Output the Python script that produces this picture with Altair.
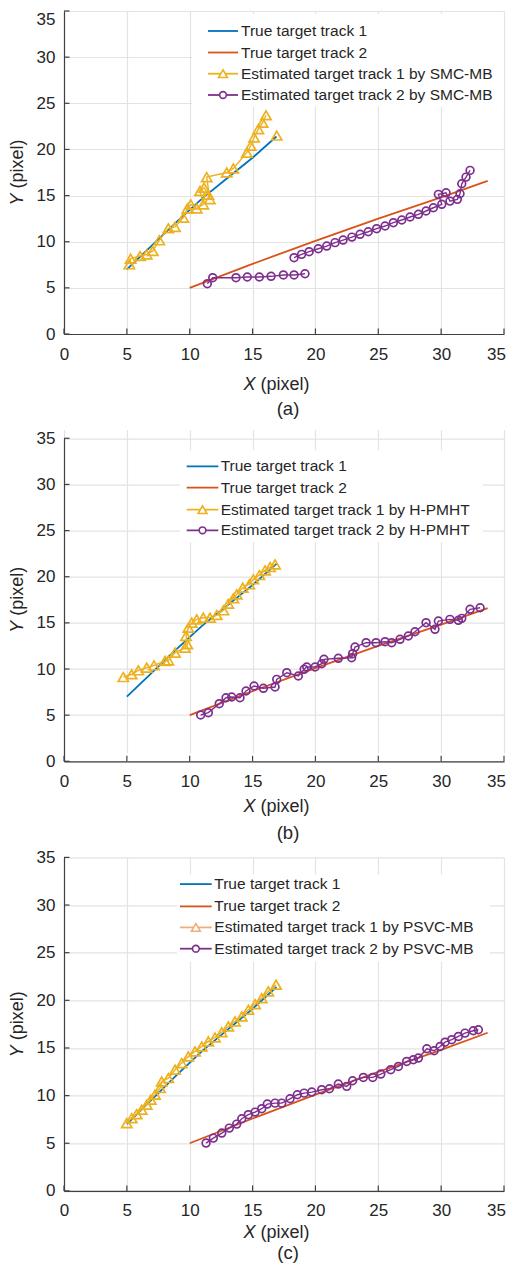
import altair as alt
import pandas as pd

FONT = "Liberation Sans"
TXT = "#262626"
C_TRUE1 = "#0072BD"
C_TRUE2 = "#D95319"
C_EST1 = "#EDB120"
C_EST1_C_LEG = "#F2AC80"
C_EST2 = "#7E2F8E"

TICKS = [0, 5, 10, 15, 20, 25, 30, 35]

# true tracks (same in all panels)
true1_x = [5.0, 7.0, 9.0, 11.0, 13.0, 15.0, 16.9]
true1_y = [7.0, 9.6, 12.2, 14.7, 16.9, 19.1, 21.4]
true2_x = [10.0, 15.0, 20.0, 25.0, 30.0, 33.7]
true2_y = [5.0, 7.6, 10.1, 12.5, 14.8, 16.6]

# panel (a) SMC-MB
a1_x = [5.2, 5.3, 6.05, 6.58, 7.06, 7.58, 8.3, 8.83, 9.49, 9.81, 10.08, 10.56, 11.08, 10.82, 11.14, 11.48,
        11.6, 11.35, 12.94, 13.47, 14.54, 14.85, 15.12, 15.46, 15.8, 16.07]
a1_y = [7.55, 8.16, 8.45, 8.63, 9.0, 10.15, 11.45, 11.6, 12.6, 13.6, 14.05, 13.6, 14.05, 15.5, 15.85, 15.1,
        14.6, 17.0, 17.5, 17.95, 19.65, 20.4, 21.3, 22.2, 22.9, 23.7]
a1_last_x = [16.92]
a1_last_y = [21.5]
a2_low_x = [11.4, 11.83, 13.68, 14.58, 15.54, 16.47, 17.45, 18.3, 19.17]
a2_low_y = [5.45, 6.1, 6.1, 6.18, 6.18, 6.25, 6.4, 6.4, 6.53]
a2_up_x = [18.3, 18.9, 19.5, 20.23, 20.9, 21.56, 22.2, 22.9, 23.55, 24.2, 24.87, 25.54, 26.2, 26.87, 27.53,
           28.19, 28.8, 29.38, 30.05, 29.78, 30.39, 30.7, 31.29, 31.5, 31.64, 31.98, 32.3]
a2_up_y = [8.27, 8.63, 8.92, 9.24, 9.53, 9.9, 10.18, 10.5, 10.8, 11.08, 11.41, 11.7, 12.06, 12.35, 12.68,
           12.97, 13.33, 13.68, 14.05, 15.13, 15.3, 14.4, 14.59, 15.2, 16.28, 17.0, 17.73]

# panel (b) H-PMHT
b1_x = [4.72, 5.38, 5.91, 6.58, 7.16, 8.04, 8.3, 8.83, 9.63, 9.81, 9.71, 9.89, 10.16, 10.56, 11.08, 11.61,
        12.15, 12.68, 13.07, 13.47, 13.74, 14.22, 14.74, 15.06, 15.54, 15.99, 16.39, 16.79]
b1_y = [9.13, 9.43, 9.86, 10.14, 10.4, 10.87, 10.94, 11.77, 12.31, 12.68, 13.58, 14.47, 15.02, 15.38, 15.56,
        15.56, 15.85, 16.36, 17.07, 17.66, 18.09, 18.81, 19.18, 19.72, 20.18, 20.69, 21.05, 21.34]
b2_x = [10.87, 11.48, 12.35, 12.89, 13.34, 14.0, 14.48, 15.12, 15.86, 16.79, 16.92, 17.72, 18.64, 19.1, 19.31,
        19.97, 20.5, 20.68, 21.82, 22.88, 22.96, 23.15, 24.03, 24.82, 25.54, 26.07, 26.73, 27.39, 27.92, 28.8,
        29.51, 29.78, 30.7, 31.37, 31.64, 32.3, 33.1]
b2_y = [5.02, 5.27, 6.24, 6.89, 6.97, 6.89, 7.62, 8.16, 7.91, 8.05, 8.88, 9.6, 9.24, 9.97, 10.22,
        10.22, 10.57, 11.05, 11.16, 11.22, 11.66, 12.38, 12.85, 12.85, 12.96, 12.85, 13.22, 13.58, 14.04, 15.02,
        14.3, 15.2, 15.38, 15.28, 15.49, 16.47, 16.64]

# panel (c) PSVC-MB
c1_x = [4.99, 5.39, 5.78, 6.18, 6.58, 6.9, 7.24, 7.64, 7.77, 8.3, 8.83, 9.36, 9.89, 10.42, 10.96, 11.48,
        12.01, 12.55, 13.07, 13.6, 14.14, 14.66, 15.2, 15.73, 16.25, 16.87]
c1_y = [7.11, 7.64, 8.06, 8.52, 9.04, 9.57, 10.1, 10.79, 11.49, 11.84, 12.72, 13.41, 14.11, 14.64, 15.16, 15.69,
        16.1, 16.66, 17.26, 17.79, 18.31, 19.01, 19.6, 20.23, 20.93, 21.64]
c2_x = [11.3, 11.88, 12.55, 13.15, 13.74, 14.14, 14.66, 15.2, 15.73, 16.17, 16.79, 17.32, 17.98, 18.56, 19.1,
        19.71, 20.5, 21.11, 21.82, 22.49, 22.96, 23.81, 24.56, 25.2, 25.99, 26.6, 27.26, 27.79, 28.19, 28.86,
        29.44, 29.92, 30.31, 30.84, 31.37, 31.9, 32.56, 32.96]
c2_y = [5.02, 5.54, 6.07, 6.59, 7.01, 7.57, 8.0, 8.27, 8.63, 9.11, 9.21, 9.21, 9.67, 10.09, 10.26,
        10.37, 10.62, 10.72, 11.21, 10.97, 11.56, 11.91, 11.91, 12.26, 12.72, 13.06, 13.59, 13.77, 13.94, 14.92,
        14.71, 15.16, 15.61, 15.87, 16.21, 16.56, 16.81, 16.91]

LEG_A = ["True target track 1", "True target track 2",
         "Estimated target track 1 by SMC-MB", "Estimated target track 2 by SMC-MB"]
LEG_B = ["True target track 1", "True target track 2",
         "Estimated target track 1 by H-PMHT", "Estimated target track 2 by H-PMHT"]
LEG_C = ["True target track 1", "True target track 2",
         "Estimated target track 1 by PSVC-MB", "Estimated target track 2 by PSVC-MB"]

W = 440
ONE = pd.DataFrame({"k": [0]})


def df_xy(xs, ys):
    return pd.DataFrame({"x": xs, "y": ys, "i": list(range(len(xs)))})


def panel(e1_segs, e2_segs, names, caption, top, ph, leg, est1_leg_color, cap_off, xt_off, first=False):
    H = top + ph
    xs = alt.Scale(domain=[0, 35], nice=False, zero=False)
    ys = alt.Scale(domain=[0, 35], nice=False, zero=False, range=[H, top])
    common = dict(values=TICKS, tickSize=0, labelFontSize=17, labelFont=FONT,
                  labelColor=TXT, grid=True, gridColor="#e3e3e3", gridWidth=1.2,
                  domainColor="#404040", domainWidth=1.2, title=None, labelFlush=False)
    xa = alt.Axis(labelPadding=12,
                  labelOffset=alt.condition("datum.value == 35", alt.value(-8), alt.value(0)),
                  **common)
    if first:
        ya = alt.Axis(labelPadding=9,
                      labelBaseline=alt.condition("datum.value == 35", alt.value("top"), alt.value("middle")),
                      **common)
    else:
        ya = alt.Axis(labelPadding=9, **common)

    def X(f="x"):
        return alt.X(f + ":Q", scale=xs, axis=xa)

    def Y(f="y"):
        return alt.Y(f + ":Q", scale=ys, axis=ya)

    layers = []
    layers.append(alt.Chart(df_xy(true1_x, true1_y)).mark_line(color=C_TRUE1, strokeWidth=1.8)
                  .encode(x=X(), y=Y(), order="i:Q"))
    layers.append(alt.Chart(df_xy(true2_x, true2_y)).mark_line(color=C_TRUE2, strokeWidth=1.8)
                  .encode(x=X(), y=Y(), order="i:Q"))
    for (sx, sy) in e1_segs:
        d = df_xy(sx, sy)
        if len(sx) > 1:
            layers.append(alt.Chart(d).mark_line(color=C_EST1, strokeWidth=1.4)
                          .encode(x=X(), y=Y(), order="i:Q"))
        layers.append(alt.Chart(d).mark_point(shape="triangle-up", filled=False, color=C_EST1,
                                              size=105, strokeWidth=1.7, opacity=1)
                      .encode(x=X(), y=Y()))
    for (sx, sy) in e2_segs:
        d = df_xy(sx, sy)
        if len(sx) > 1:
            layers.append(alt.Chart(d).mark_line(color=C_EST2, strokeWidth=1.4)
                          .encode(x=X(), y=Y(), order="i:Q"))
        layers.append(alt.Chart(d).mark_point(shape="circle", filled=False, color=C_EST2,
                                              size=60, strokeWidth=1.7, opacity=1)
                      .encode(x=X(), y=Y()))
    # inward ticks
    tdf = pd.DataFrame({"t": TICKS})
    layers.append(alt.Chart(tdf).mark_rule(color="#404040", strokeWidth=1.2)
                  .encode(y=Y("t"), x=alt.value(0), x2=alt.value(5.5)))
    layers.append(alt.Chart(tdf).mark_rule(color="#404040", strokeWidth=1.2)
                  .encode(x=X("t"), y=alt.value(H), y2=alt.value(H - 5.5)))

    # legend
    bx1, bx2, by1, by2, lx1, lx2, tx, rows = leg
    layers.append(alt.Chart(ONE).mark_rect(fill="white")
                  .encode(x=alt.value(bx1), x2=alt.value(bx2), y=alt.value(top + by1), y2=alt.value(top + by2)))
    lcols = [C_TRUE1, C_TRUE2, est1_leg_color, C_EST2]
    for i in range(4):
        layers.append(alt.Chart(ONE).mark_rule(color=lcols[i], strokeWidth=1.8)
                      .encode(x=alt.value(lx1), x2=alt.value(lx2), y=alt.value(top + rows[i])))
        layers.append(alt.Chart(ONE).mark_text(text=names[i], align="left", baseline="middle",
                                               font=FONT, fontSize=15.5, color=TXT)
                      .encode(x=alt.value(tx), y=alt.value(top + rows[i])))
    lm = (lx1 + lx2) / 2
    layers.append(alt.Chart(ONE).mark_point(shape="triangle-up", filled=True, fill="white", stroke=est1_leg_color,
                                            size=80, strokeWidth=1.6, opacity=1)
                  .encode(x=alt.value(lm), y=alt.value(top + rows[2])))
    layers.append(alt.Chart(ONE).mark_point(shape="circle", filled=True, fill="white", stroke=C_EST2,
                                            size=45, strokeWidth=1.6, opacity=1)
                  .encode(x=alt.value(lm), y=alt.value(top + rows[3])))

    # axis titles
    xt_y = H + xt_off
    layers.append(alt.Chart(ONE).mark_text(text="X", align="left", baseline="middle", font=FONT,
                                           fontSize=18, fontStyle="italic", color=TXT)
                  .encode(x=alt.value(179.5), y=alt.value(xt_y)))
    layers.append(alt.Chart(ONE).mark_text(text="(pixel)", align="left", baseline="middle", font=FONT,
                                           fontSize=18, color=TXT)
                  .encode(x=alt.value(196.5), y=alt.value(xt_y)))
    cy = top + ph / 2
    layers.append(alt.Chart(ONE).mark_text(text="Y", align="left", baseline="middle", font=FONT,
                                           fontSize=18, fontStyle="italic", color=TXT, angle=270)
                  .encode(x=alt.value(-46), y=alt.value(cy + 33)))
    layers.append(alt.Chart(ONE).mark_text(text="(pixel)", align="left", baseline="middle", font=FONT,
                                           fontSize=18, color=TXT, angle=270)
                  .encode(x=alt.value(-46), y=alt.value(cy + 16)))
    layers.append(alt.Chart(ONE).mark_text(text=caption, align="center", baseline="middle", font=FONT,
                                           fontSize=18.5, color=TXT)
                  .encode(x=alt.value(224), y=alt.value(H + cap_off)))

    return alt.layer(*layers).properties(width=W, height=H)


pa = panel([(a1_x, a1_y), (a1_last_x, a1_last_y)], [(a2_low_x, a2_low_y), (a2_up_x, a2_up_y)],
           LEG_A, "(a)", 0, 323, (128, 440, 3, 96, 144, 174, 177, [20, 41.5, 62.7, 84]), C_EST1, 75, 51,
           first=True)
pb = panel([(b1_x, b1_y)], [(b2_x, b2_y)],
           LEG_B, "(b)", 8.6, 323, (116, 419, 12, 104, 122.7, 154.3, 156.7, [28, 49.4, 71.4, 92]), C_EST1, 72, 46)
pc = panel([(c1_x, c1_y)], [(c2_x, c2_y)],
           LEG_C, "(c)", 0, 333.5, (113, 426, 17, 104, 116, 147.7, 150.3, [26.7, 49, 70, 91.3]), C_EST1_C_LEG,
           62.5, 42)

chart = alt.vconcat(pa, pb, pc, spacing=95.7, bounds="flush").properties(
    padding={"left": 1, "top": 2, "right": 0, "bottom": 0}
).configure_view(stroke=None)

chart.save("out.html", embed_options={"renderer": "svg", "actions": False})
